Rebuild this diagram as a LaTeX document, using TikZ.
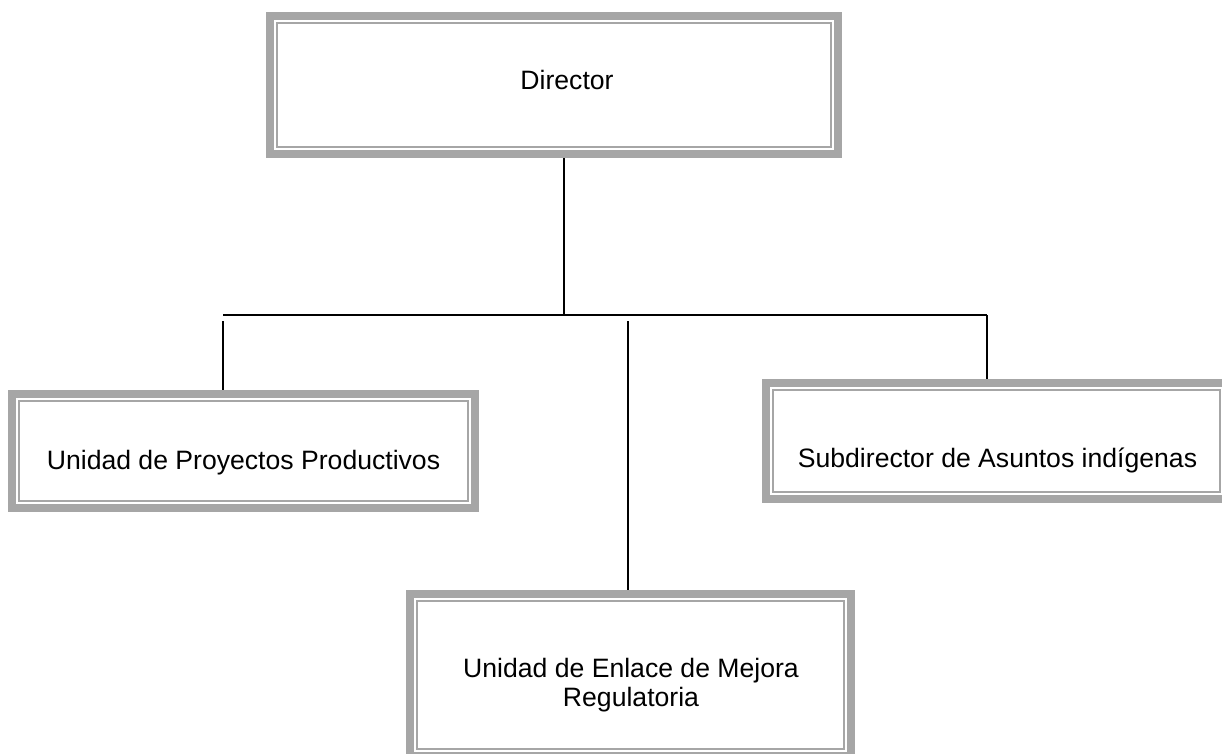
\documentclass[tikz,border=0pt]{standalone}
\usepackage{fontspec}
\setmainfont{Liberation Sans}
\usetikzlibrary{positioning}
\definecolor{boxgray}{HTML}{A6A6A6}
\tikzstyle{unitbox} = [rectangle, inner sep=0pt, outer sep=0pt]
\tikzstyle{unittext} = [font=\fontsize{26.6}{29}\selectfont, inner sep=0pt]
\tikzstyle{link} = [draw=black, line width=2pt]

\begin{document}
\begin{tikzpicture}[x=1pt, y=-1pt]
  \useasboundingbox (0,0) rectangle (1222,754);

  % boxes
  \node (dir) [unitbox, minimum width=568pt, minimum height=138pt] at (554,85) {};
  \node (prod) [unitbox, minimum width=463pt, minimum height=114pt] at (243.5,451) {};
  \node (sub) [unitbox, minimum width=461pt, minimum height=116pt] at (996.5,441) {};
  \node (enl) [unitbox, minimum width=441pt, minimum height=162pt] at (630.5,675) {};

  % connectors
  \coordinate (trunk) at (564,315);
  \coordinate (barL) at (223,315);
  \coordinate (barR) at (987,315);
  \coordinate (midL) at (628,315);
  \draw[link] (dir.south -| trunk) -- (trunk);
  \draw[link] (barL) -- (barR);
  \draw[link] ([yshift=-6pt]barL) -- (barL |- prod.north);
  \draw[link] ([yshift=-6pt]midL) -- (midL |- enl.north);
  \draw[link] (barR) -- (barR |- sub.north);

  % frames
  \foreach \n in {dir,prod,sub,enl}{
    \draw[boxgray, line width=8pt] (\n.north west) rectangle (\n.south east);
    \draw[boxgray, line width=2pt] ([shift={(7pt,-7pt)}]\n.north west) rectangle ([shift={(-7pt,7pt)}]\n.south east);
  }

  % texts
  \node (dirtxt) [unittext, anchor=base] at (567,90) {Director};
  \node (prodtxt) [unittext, anchor=base] at (243.5,469) {Unidad de Proyectos Productivos};
  \node (subtxt) [unittext, anchor=base] at (997.5,467) {Subdirector de Asuntos indígenas};
  \node (enltxt) [unittext, align=center] at (631,685.6) {Unidad de Enlace de Mejora\\Regulatoria};
\end{tikzpicture}
\end{document}
